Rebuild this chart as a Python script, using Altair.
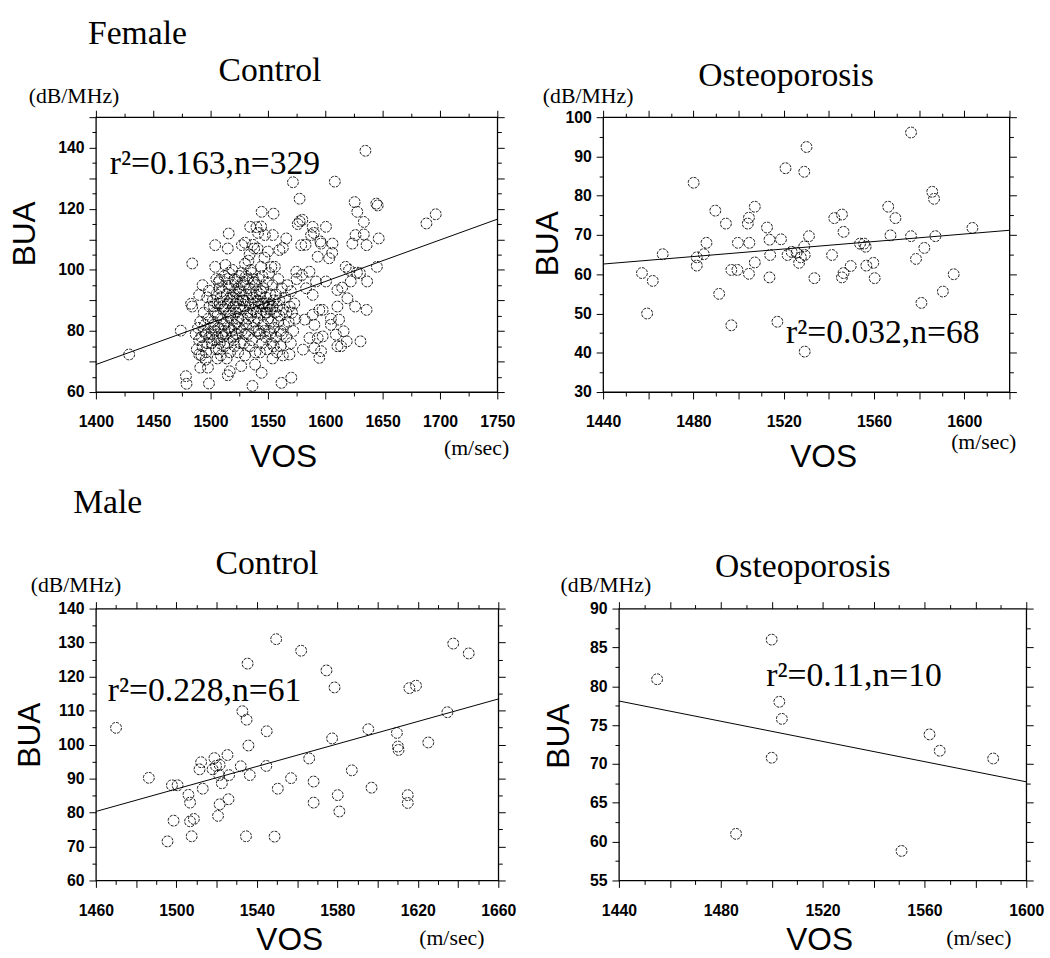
import altair as alt
import pandas as pd

SERIF = "Liberation Serif"
SANS = "Liberation Sans"

# ---------------- data: (VOS m/sec, BUA dB/MHz) ----------------
female_control = [
    (1429, 72.3), (1474, 80.1), (1478.5, 65.2), (1479, 62.7), (1498.6, 62.8), (1484, 102.1),
    (1483, 88.9), (1484, 88), (1490, 91.8), (1498.6, 93.2), (1490, 72.3), (1491, 68),
    (1497.7, 68), (1495.7, 70.6), (1504, 108.1), (1515.8, 111.9), (1515, 107), (1513, 101.6),
    (1508, 96.7), (1516.7, 66.8), (1515, 65.5), (1526.7, 68.5), (1527.3, 108.1), (1534.5, 114.1),
    (1540, 114), (1544.5, 119), (1547.4, 111.4), (1554.9, 118.4), (1554.3, 111.4), (1566, 110.3),
    (1560, 106.5), (1536.5, 62), (1538.8, 69), (1544.5, 66.3), (1561.8, 63), (1570.4, 64.7),
    (1568.8, 72.3), (1571.8, 128.7), (1577.6, 123.3), (1577.6, 115.9), (1576, 115), (1579, 108.1),
    (1574.7, 99.4), (1579.6, 98.3), (1582, 83.7), (1580.5, 73.9), (1589, 114.1), (1587.6, 111.4),
    (1593.4, 104.3), (1596.3, 108.6), (1600.6, 114.1), (1606.3, 108.6), (1603.4, 103.8), (1600.6, 96.2),
    (1608.3, 128.9), (1610.6, 93.4), (1610.6, 88), (1619.3, 90.7), (1617.8, 101), (1620.7, 100),
    (1623.6, 108.6), (1622.2, 96.2), (1625.6, 122.2), (1627.9, 119), (1626.4, 111.4), (1630.2, 98.9),
    (1633.6, 115.7), (1633.6, 111.6), (1635, 139), (1636, 108.1), (1636.5, 96.2), (1636, 86.9),
    (1645, 101), (1644.5, 121.7), (1645.7, 121.1), (1646.6, 110.3), (1630.7, 76.6), (1618.7, 76.6),
    (1610.6, 75), (1609.2, 78.8), (1604.9, 82), (1612, 83.7), (1594.8, 71.2), (1596.3, 73.4),
    (1590.5, 74.4), (1593.4, 77.7), (1597.7, 78.2), (1586.2, 77.7), (1594.8, 86.9), (1597.7, 86.9),
    (1590.5, 82), (1589, 85.3), (1589, 91.8), (1591.9, 96.2), (1586.2, 99.4), (1583.3, 94),
    (1688.2, 115.2), (1696.3, 118.2), (1604.9, 84), (1544, 114.2), (1541.4, 112.1), (1590, 112.1),
    (1595.7, 109.3), (1582.8, 108.2), (1563, 107.2), (1606, 105.6), (1537, 108.2), (1530, 108.9),
    (1580, 116.4), (1627.6, 99.1), (1614.7, 94.2), (1626, 88), (1616, 79.9), (1613.8, 75),
    # dense core
    (1487, 79), (1489, 81), (1490, 77), (1491, 83), (1492, 78), (1493, 75), (1494, 80), (1495, 82),
    (1496, 79), (1497, 76), (1498, 84), (1499, 78), (1500, 81), (1488, 74), (1492, 72), (1494, 86),
    (1496, 73), (1499, 88), (1497, 91), (1493, 95),
    (1501, 79), (1502, 83), (1503, 77), (1503, 88), (1504, 80), (1505, 74), (1505, 92), (1506, 85),
    (1506, 78), (1507, 96), (1507, 81), (1508, 76), (1508, 89), (1509, 84), (1509, 72), (1510, 79),
    (1510, 93), (1511, 87), (1511, 82), (1512, 75), (1512, 98), (1502, 90), (1504, 86), (1506, 71),
    (1508, 94), (1510, 88), (1512, 80), (1501, 76), (1503, 82), (1505, 97), (1507, 74), (1509, 91),
    (1511, 78), (1504, 101), (1506, 89),
    (1513, 88), (1513, 79), (1514, 92), (1514, 83), (1515, 76), (1515, 97), (1516, 86), (1516, 81),
    (1517, 90), (1517, 73), (1518, 95), (1518, 84), (1519, 78), (1519, 100), (1520, 88), (1520, 92),
    (1521, 82), (1521, 75), (1522, 96), (1522, 86), (1523, 90), (1523, 79), (1524, 94), (1524, 84),
    (1525, 88), (1525, 98), (1514, 71), (1515, 89), (1516, 94), (1517, 85), (1518, 80), (1519, 91),
    (1520, 77), (1521, 97), (1522, 89), (1523, 83), (1524, 73), (1525, 92), (1516, 99), (1522, 79),
    (1521, 93), (1525, 81),
    (1526, 87), (1526, 93), (1527, 80), (1527, 99), (1528, 90), (1528, 84), (1529, 95), (1529, 76),
    (1530, 88), (1530, 102), (1531, 92), (1531, 82), (1532, 86), (1532, 97), (1533, 79), (1533, 90),
    (1534, 94), (1534, 105), (1535, 85), (1535, 89), (1536, 99), (1536, 77), (1537, 91), (1537, 87),
    (1538, 83), (1538, 96), (1539, 89), (1539, 73), (1540, 93), (1540, 86), (1526, 76), (1528, 96),
    (1530, 79), (1531, 98), (1533, 84), (1535, 100), (1536, 92), (1537, 81), (1538, 107), (1539, 95),
    (1540, 80), (1529, 90), (1533, 103), (1537, 97), (1530, 72), (1534, 75),
    (1541, 90), (1541, 84), (1542, 97), (1542, 88), (1543, 79), (1543, 92), (1544, 86), (1544, 101),
    (1545, 89), (1545, 76), (1546, 94), (1546, 82), (1547, 88), (1547, 104), (1548, 91), (1548, 78),
    (1549, 86), (1549, 96), (1550, 84), (1550, 89), (1551, 80), (1551, 99), (1552, 87), (1552, 92),
    (1553, 76), (1553, 83), (1554, 95), (1554, 88), (1555, 81), (1555, 90), (1541, 107), (1543, 73),
    (1545, 98), (1547, 80), (1549, 74), (1551, 88), (1553, 101), (1555, 75), (1542, 80), (1544, 93),
    (1546, 89), (1548, 86), (1550, 106), (1552, 79), (1554, 71),
    (1556, 86), (1557, 92), (1557, 78), (1558, 88), (1559, 83), (1559, 97), (1560, 90), (1561, 80),
    (1561, 75), (1562, 94), (1563, 87), (1563, 72), (1564, 82), (1565, 91), (1566, 86), (1566, 78),
    (1567, 95), (1568, 83), (1569, 88), (1570, 76), (1570, 93), (1571, 86), (1572, 80), (1573, 89),
    (1574, 84), (1575, 97), (1556, 101), (1558, 73), (1560, 85), (1562, 79),
]

female_osteo = [
    (1457.2, 60.3), (1462, 58.3), (1459.5, 50.0), (1466.4, 65.1), (1480.1, 83.3), (1481.5, 64.3),
    (1481.5, 62.2), (1484.6, 65.1), (1485.8, 68.0), (1489.7, 76.2), (1491.4, 55.0), (1494.4, 72.9),
    (1496.8, 61.1), (1499.5, 61.1), (1496.8, 47.0), (1499.7, 68.0), (1504.1, 72.9), (1504.6, 74.4),
    (1504.8, 68.0), (1504.6, 60.1), (1507.2, 77.2), (1507.2, 63.0), (1512.6, 71.9), (1513.7, 68.8),
    (1514, 64.9), (1513.7, 59.2), (1517.2, 47.9), (1518.8, 68.9), (1520.8, 87.0), (1521.7, 64.9),
    (1523.5, 65.7), (1525.7, 65.5), (1526.8, 62.9), (1527.6, 64.3), (1529.1, 67.1), (1529.3, 64.9),
    (1529.1, 86.1), (1530.1, 92.4), (1531.2, 69.7), (1529.3, 40.3), (1533.6, 59.0), (1541.4, 64.9),
    (1542.4, 74.3), (1545.8, 75.2), (1546.5, 70.8), (1545.8, 59.2), (1546.5, 60.3), (1549.7, 62.1),
    (1553.8, 67.8), (1555.6, 67.8), (1556.3, 67.0), (1556.6, 62.2), (1559.7, 62.9), (1560.3, 59.0),
    (1566.3, 77.2), (1567.3, 69.9), (1569.5, 74.3), (1576.4, 96.1), (1576.4, 69.7), (1578.6, 63.9),
    (1581, 52.7), (1582.3, 66.7), (1585.8, 81.0), (1586.6, 79.2), (1587.2, 69.7), (1590.5, 55.6),
    (1595.3, 60.0), (1603.6, 71.8),
]

male_control = [
    (1470, 104.9), (1486.3, 90.2), (1497.8, 88.0), (1500.6, 88.0), (1495.6, 71.5), (1498.6, 77.6),
    (1506, 85.2), (1506.8, 82.9), (1506.8, 77.4), (1508.7, 78.1), (1507.6, 73.0), (1512.3, 94.8),
    (1511.5, 92.7), (1513.1, 87.0), (1518.9, 96.0), (1518, 92.7), (1519.7, 93.7), (1521.3, 91.0),
    (1522.6, 88.6), (1521.5, 82.4), (1520.7, 79.0), (1525.4, 96.9), (1526.2, 91.0), (1525.9, 83.9),
    (1532, 93.6), (1532.8, 109.8), (1534.9, 107.3), (1535.4, 123.8), (1535.8, 99.7), (1536.5, 91.0),
    (1534.6, 73.0), (1544.9, 103.9), (1544.7, 93.7), (1549.6, 131.0), (1550.4, 87.0), (1548.8, 72.9),
    (1557, 90.1), (1562, 127.6), (1566, 95.9), (1568.2, 89.1), (1568.2, 82.9), (1574.6, 121.8),
    (1578.6, 116.8), (1577.4, 101.8), (1580.2, 85.1), (1581, 80.3), (1587.2, 92.4), (1595.4, 104.5),
    (1597, 87.3), (1609.6, 103.4), (1610.1, 99.4), (1610.4, 98.4), (1615, 85.1), (1615, 82.8),
    (1615.8, 116.6), (1619.1, 117.3), (1625.2, 100.6), (1634.7, 109.5), (1637.6, 129.7),
    (1645.3, 126.8), (1521.5, 94.0),
]

male_osteo = [
    (1455, 80.9), (1500, 86.0), (1503, 78.0), (1504, 75.8), (1500, 70.8),
    (1486, 61.0), (1551, 58.8), (1562, 73.8), (1566, 71.7), (1587, 70.7),
]

# regression lines: end points (VOS, BUA)
female_control_fit = ([1400, 1750], [69.0, 116.6])
female_osteo_fit = ([1440, 1620], [62.6, 71.2])
male_control_fit = ([1460, 1660], [80.3, 113.4])
male_osteo_fit = ([1440, 1600], [78.1, 67.7])

# axis tick positions
fc_xticks = list(range(1400, 1751, 25))
fc_yticks = list(range(60, 151, 5))
fo_xticks = list(range(1440, 1621, 10))
fo_yticks = list(range(30, 101, 5))
mc_xticks = list(range(1460, 1661, 10))
mc_yticks = list(range(60, 141, 5))
mo_xticks = list(range(1440, 1601, 10))
mo_yticks = [55, 57.5, 60, 62.5, 65, 67.5, 70, 72.5, 75, 77.5, 80, 82.5, 85, 87.5, 90]


def text_layer(s, x, y, size, font, align="left", angle=0, baseline="alphabetic"):
    kw = dict(font=font, fontSize=size, align=align, baseline=baseline, color="black")
    if angle:
        kw["angle"] = angle
    return alt.Chart(pd.DataFrame({"t": [s]})).mark_text(**kw).encode(
        text="t:N", x=alt.value(x), y=alt.value(y))


def make_axis(orient, values, lab_test, maj_test, labels, pad=0):
    d = dict(orient=orient, values=values, grid=False, domain=False, title=None,
             tickColor="black", tickWidth=1,
             tickSize={"condition": {"test": maj_test, "value": 7}, "value": 4})
    if labels:
        d.update(format="d", labelExpr=f"({lab_test}) ? datum.label : ''", labelFont=SANS,
                 labelFontSize=16, labelFontWeight="bold", labelColor="black",
                 labelFlush=False, labelOverlap=False, labelPadding=pad)
    else:
        d.update(labels=False)
    return alt.Axis(**d)


def panel(pts, fit, xdom, ydom, xticks, yticks, xlab, ylab, xmaj, ymaj, w, h, texts):
    df = pd.DataFrame(pts, columns=["VOS", "BUA"])
    fit_df = pd.DataFrame({"VOS": fit[0], "BUA": fit[1]})
    xs = alt.Scale(domain=xdom, nice=False, zero=False)
    ys = alt.Scale(domain=ydom, nice=False, zero=False)
    dots = alt.Chart(df).mark_point(
        shape="circle", filled=False, size=120, color="black",
        strokeWidth=0.9, strokeDash=[3, 1.2], opacity=1
    ).encode(
        x=alt.X("VOS:Q", scale=xs, axis=make_axis("bottom", xticks, xlab, xmaj, True, 15)),
        y=alt.Y("BUA:Q", scale=ys, axis=make_axis("left", yticks, ylab, ymaj, True, 5)),
    )
    line = alt.Chart(fit_df).mark_line(color="black", strokeWidth=1).encode(
        x=alt.X("VOS:Q", scale=xs, axis=make_axis("top", xticks, xlab, xmaj, False)),
        y=alt.Y("BUA:Q", scale=ys, axis=make_axis("right", yticks, ylab, ymaj, False)),
    )
    layers = [dots, line] + [text_layer(*t) for t in texts]
    return alt.layer(*layers).resolve_axis(x="independent", y="independent").properties(
        width=w, height=h)


p1 = panel(
    female_control, female_control_fit, [1400, 1750], [60, 150], fc_xticks, fc_yticks,
    "datum.value % 50 === 0", "datum.value % 20 === 0 && datum.value <= 140",
    "datum.value % 50 === 0", "datum.value % 10 === 0", 406, 278,
    [
        ("Female", -8, -74, 34, SERIF),
        ("Control", 176, -37, 34, SERIF, "center"),
        ("(dB/MHz)", -68, -14, 22, SERIF),
        ("r²=0.163,n=329", 14, 57, 34, SERIF),
        ("(m/sec)", 352, 342, 22, SERIF),
        ("VOS", 190, 354, 32, SANS, "center"),
        ("BUA", -71.5, 118, 32, SANS, "center", 270, "middle"),
    ],
)
p2 = panel(
    female_osteo, female_osteo_fit, [1440, 1620], [30, 100], fo_xticks, fo_yticks,
    "(datum.value - 1440) % 40 === 0 && datum.value <= 1600", "datum.value % 10 === 0",
    "datum.value % 20 === 0", "datum.value % 10 === 0", 411, 278,
    [
        ("Osteoporosis", 185, -32, 34, SERIF, "center"),
        ("(dB/MHz)", -61, -14, 22, SERIF),
        ("r²=0.032,n=68", 185, 228, 34, SERIF),
        ("(m/sec)", 352, 336, 22, SERIF),
        ("VOS", 223, 354, 32, SANS, "center"),
        ("BUA", -56, 128, 32, SANS, "center", 270, "middle"),
    ],
)
p3 = panel(
    male_control, male_control_fit, [1460, 1660], [60, 140], mc_xticks, mc_yticks,
    "(datum.value - 1460) % 40 === 0", "datum.value % 10 === 0",
    "datum.value % 20 === 0", "datum.value % 10 === 0", 407, 275,
    [
        ("Male", -23, -97, 34, SERIF),
        ("Control", 173, -35, 34, SERIF, "center"),
        ("(dB/MHz)", -66, -17, 22, SERIF),
        ("r²=0.228,n=61", 12, 93, 34, SERIF),
        ("(m/sec)", 327, 340, 22, SERIF),
        ("VOS", 196, 345, 32, SANS, "center"),
        ("BUA", -66.5, 128, 32, SANS, "center", 270, "middle"),
    ],
)
p4 = panel(
    male_osteo, male_osteo_fit, [1440, 1600], [55, 90], mo_xticks, mo_yticks,
    "(datum.value - 1440) % 40 === 0", "datum.value % 5 === 0",
    "datum.value % 20 === 0", "datum.value % 5 === 0", 412, 275,
    [
        ("Osteoporosis", 186, -32, 34, SERIF, "center"),
        ("(dB/MHz)", -59, -17, 22, SERIF),
        ("r²=0.11,n=10", 149, 78, 34, SERIF),
        ("(m/sec)", 331, 340, 22, SERIF),
        ("VOS", 203, 345, 32, SANS, "center"),
        ("BUA", -60, 129, 32, SANS, "center", 270, "middle"),
    ],
)

row1 = alt.hconcat(p1, p2, spacing=107, bounds="flush")
row2 = alt.hconcat(p3, p4, spacing=122, bounds="flush")

chart = alt.vconcat(row1, row2, spacing=11).properties(
    padding={"left": 8, "top": 11, "right": 5, "bottom": 5},
    background="white",
).configure_view(stroke="black", strokeWidth=1.3)

chart.save("out.html", embed_options={"renderer": "svg", "actions": False})
